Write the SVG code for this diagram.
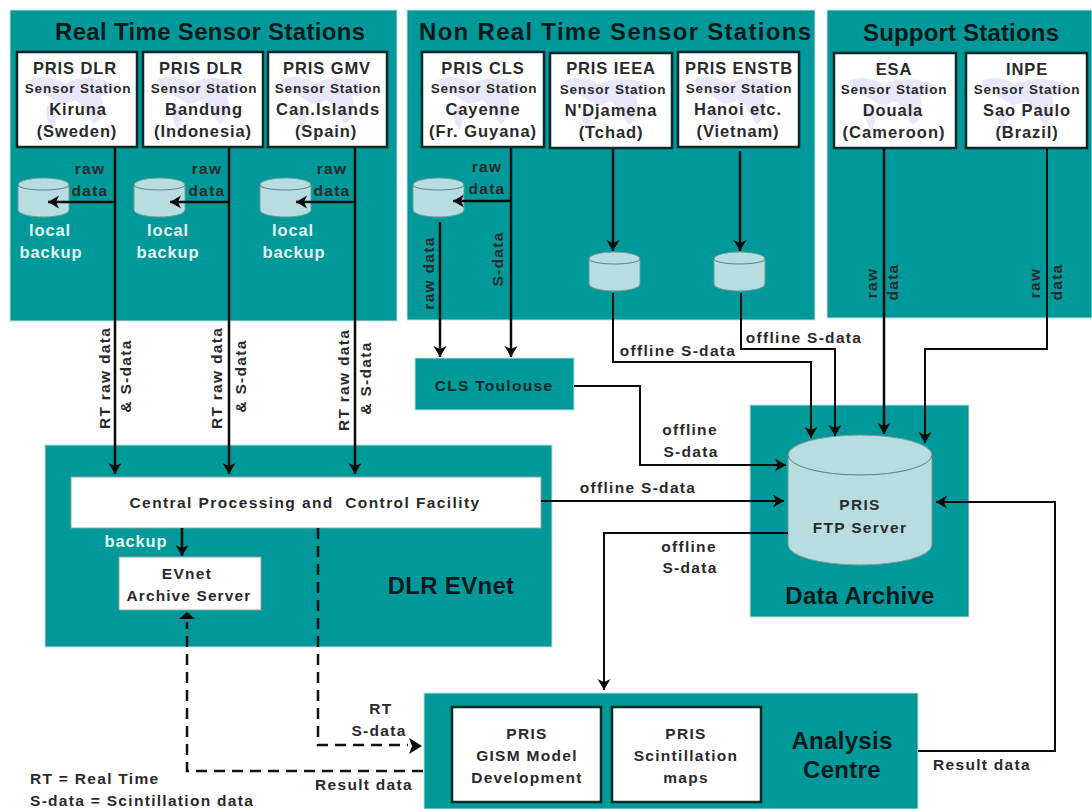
<svg xmlns="http://www.w3.org/2000/svg" xmlns:xlink="http://www.w3.org/1999/xlink" width="1092" height="809" viewBox="0 0 1092 809">
<style>
text{font-family:"Liberation Sans",Arial,sans-serif;font-weight:bold;fill:#2a2a2a;text-anchor:middle}
.panel{fill:#009999;stroke:#cfdcdc;stroke-width:1}
.box{fill:#fff;stroke:#102828;stroke-width:2.5}
.plain{fill:#fff;stroke:#8aa;stroke-width:1}
.title{font-size:24px;fill:#07191c}
.big{font-size:24px;letter-spacing:.3px;fill:#07191c}
.n{font-size:16.500px;letter-spacing:.9px}
.s{font-size:13.500px;letter-spacing:.8px}
.l{font-size:15.500px;letter-spacing:1.300px}
.w{font-size:16.500px;letter-spacing:.9px;fill:#e4f4f4}
.c{fill:#b8dde0;stroke:#6f9a9c;stroke-width:1}
.ct{fill:none;stroke:#5a7f80;stroke-width:1}
.line{fill:none;stroke:#0a0a0a;stroke-width:2.5}
.thin{fill:none;stroke:#0a0a0a;stroke-width:2}
.dash{fill:none;stroke:#111;stroke-width:2.5;stroke-dasharray:11 7}
</style>
<defs>
<marker id="arr" markerUnits="userSpaceOnUse" markerWidth="14" markerHeight="14" refX="12" refY="6.500" orient="auto"><path d="M1 0L12 6.500L1 13L4 6.500Z" fill="#0a0a0a"/></marker>
<path id="map" transform="translate(0,10)" d="M14 18C24 12 40 16 48 22C58 14 82 14 98 22C104 28 90 32 84 34C88 44 84 60 76 62C70 52 66 42 58 38C50 42 44 44 38 38C30 32 14 28 14 18ZM30 44C38 44 42 54 36 68C30 62 28 52 30 44Z" fill="#e8e8fa"/>
<g id="cyl"><path class="c" d="M0 8A25.500 7 0 0 1 51 8V33A25.500 7 0 0 1 0 33Z"/><path class="ct" d="M0 8A25.500 5 0 0 0 51 8"/></g>
</defs>

<g id="panel-rt"><rect class="panel" x="10" y="10" width="387" height="311"/><text class="title" x="210" y="40" textLength="310" lengthAdjust="spacing">Real Time Sensor Stations</text></g>
<g id="panel-nrt"><rect class="panel" x="407" y="10" width="408" height="310"/><text class="title" x="615" y="40" textLength="392" lengthAdjust="spacing">Non Real Time Sensor Stations</text></g>
<g id="panel-support"><rect class="panel" x="827" y="10" width="265" height="308"/><text class="title" x="961" y="41" textLength="196" lengthAdjust="spacing">Support Stations</text></g>
<g id="panel-dlr"><rect class="panel" x="45" y="445" width="507" height="202"/><text class="big" x="451" y="594">DLR EVnet</text></g>
<g id="panel-archive"><rect class="panel" x="750" y="405" width="219" height="212"/><text class="big" x="860" y="604">Data Archive</text></g>
<g id="panel-analysis"><rect class="panel" x="424" y="693" width="494" height="116"/><text class="big" x="842" y="749">Analysis</text><text class="big" x="842" y="778">Centre</text></g>

<g id="st-kiruna"><rect class="box" x="17" y="52" width="120" height="95"/><use xlink:href="#map" x="17" y="52"/><text class="n" x="75" y="74">PRIS DLR</text><text class="s" x="78" y="93">Sensor Station</text><text class="n" x="78" y="115">Kiruna</text><text class="n" x="77" y="137">(Sweden)</text></g>
<g id="st-bandung"><rect class="box" x="143" y="52" width="120" height="95"/><use xlink:href="#map" x="143" y="52"/><text class="n" x="201" y="74">PRIS DLR</text><text class="s" x="204" y="93">Sensor Station</text><text class="n" x="204" y="115">Bandung</text><text class="n" x="203" y="137">(Indonesia)</text></g>
<g id="st-canary"><rect class="box" x="268" y="52" width="119" height="95"/><use xlink:href="#map" x="268" y="52"/><text class="n" x="327" y="74">PRIS GMV</text><text class="s" x="328" y="93">Sensor Station</text><text class="n" x="328" y="115" textLength="104" lengthAdjust="spacing">Can.Islands</text><text class="n" x="326" y="137">(Spain)</text></g>
<g id="st-cayenne"><rect class="box" x="422" y="52" width="122" height="95"/><use xlink:href="#map" x="424" y="52"/><text class="n" x="483" y="74">PRIS CLS</text><text class="s" x="484" y="93">Sensor Station</text><text class="n" x="483" y="115">Cayenne</text><text class="n" x="483" y="137" textLength="108" lengthAdjust="spacing">(Fr. Guyana)</text></g>
<g id="st-ndjamena"><rect class="box" x="550" y="53" width="122" height="95"/><use xlink:href="#map" x="552" y="53"/><text class="n" x="611" y="74">PRIS IEEA</text><text class="s" x="613" y="94">Sensor Station</text><text class="n" x="611" y="116">N'Djamena</text><text class="n" x="611" y="138">(Tchad)</text></g>
<g id="st-hanoi"><rect class="box" x="678" y="52" width="121" height="95"/><use xlink:href="#map" x="680" y="52"/><text class="n" x="739" y="74" textLength="108" lengthAdjust="spacing">PRIS ENSTB</text><text class="s" x="739" y="93">Sensor Station</text><text class="n" x="738" y="115">Hanoi etc.</text><text class="n" x="738" y="137">(Vietnam)</text></g>
<g id="st-douala"><rect class="box" x="834" y="53" width="122" height="95"/><use xlink:href="#map" x="836" y="53"/><text class="n" x="894" y="75">ESA</text><text class="s" x="894" y="94">Sensor Station</text><text class="n" x="893" y="116">Douala</text><text class="n" x="894" y="138" textLength="103" lengthAdjust="spacing">(Cameroon)</text></g>
<g id="st-saopaulo"><rect class="box" x="966" y="53" width="121" height="95"/><use xlink:href="#map" x="968" y="53"/><text class="n" x="1027" y="75">INPE</text><text class="s" x="1027" y="94">Sensor Station</text><text class="n" x="1027" y="116">Sao Paulo</text><text class="n" x="1027" y="138">(Brazil)</text></g>

<g id="db-kiruna"><use xlink:href="#cyl" x="18" y="177"/></g>
<g id="db-bandung"><use xlink:href="#cyl" x="134" y="177"/></g>
<g id="db-canary"><use xlink:href="#cyl" x="260" y="177"/></g>
<g id="db-cayenne"><use xlink:href="#cyl" x="413" y="177"/></g>
<g id="db-ndjamena"><use xlink:href="#cyl" x="589" y="251"/></g>
<g id="db-hanoi"><use xlink:href="#cyl" x="714" y="251"/></g>

<g id="ftp"><path class="c" d="M788 455A72 20 0 0 1 932 455V545A72 20 0 0 1 788 545Z"/><path class="ct" d="M788 455A72 20 0 0 0 932 455" stroke-width="1.500"/><text class="l" x="860" y="510">PRIS</text><text class="l" x="860" y="533">FTP Server</text></g>

<g id="central"><rect class="plain" x="71" y="477" width="470" height="51"/><text class="l" x="305" y="508" xml:space="preserve" textLength="351" lengthAdjust="spacing">Central Processing and  Control Facility</text></g>
<g id="evnet-archive"><rect class="plain" x="119" y="557" width="142" height="53"/><text class="l" x="187" y="579">EVnet</text><text class="l" x="189" y="601" textLength="125" lengthAdjust="spacing">Archive Server</text></g>
<g id="cls"><rect class="panel" x="415" y="358" width="159" height="52" stroke="#bcc"/><text class="l" x="494" y="391" style="fill:#0e2a2a">CLS Toulouse</text></g>
<g id="gism"><rect class="box" x="452" y="707" width="149" height="95"/><text class="l" x="527" y="739">PRIS</text><text class="l" x="527" y="761">GISM Model</text><text class="l" x="527" y="783">Development</text></g>
<g id="maps"><rect class="box" x="612" y="707" width="149" height="95"/><text class="l" x="686" y="739">PRIS</text><text class="l" x="686" y="761">Scintillation</text><text class="l" x="686" y="783">maps</text></g>

<g id="connectors">
<path class="line" marker-end="url(#arr)" d="M115 148V474"/>
<path class="line" marker-end="url(#arr)" d="M229 148V474"/>
<path class="line" marker-end="url(#arr)" d="M355 148V474"/>
<path class="line" marker-end="url(#arr)" d="M115 202H48"/>
<path class="line" marker-end="url(#arr)" d="M229 202H170"/>
<path class="line" marker-end="url(#arr)" d="M355 202H296"/>
<path class="line" marker-end="url(#arr)" d="M511 148V357"/>
<path class="line" marker-end="url(#arr)" d="M511 201H453"/>
<path class="line" marker-end="url(#arr)" d="M440 222V357"/>
<path class="line" marker-end="url(#arr)" d="M613 149V251"/>
<path class="line" marker-end="url(#arr)" d="M740 151V251"/>
<path class="thin" marker-end="url(#arr)" d="M613 293V362H811V438"/>
<path class="thin" marker-end="url(#arr)" d="M741 293V349H835V436"/>
<path class="line" marker-end="url(#arr)" d="M884 148V434"/>
<path class="thin" marker-end="url(#arr)" d="M1047 148V349H925V443"/>
<path class="thin" marker-end="url(#arr)" d="M574 386H640V465H786"/>
<path class="thin" marker-end="url(#arr)" d="M541 501H784"/>
<path class="thin" marker-end="url(#arr)" d="M788 533H604V690"/>
<path class="thin" marker-end="url(#arr)" d="M918 751H1055V502H936"/>
<path class="line" marker-end="url(#arr)" d="M182 528V556"/>
<path class="dash" d="M318 528V745H408"/>
<path fill="#0a0a0a" d="M409 738L422 746L409 754L412 746Z"/>
<path class="dash" d="M423 771H187V622"/>
<path fill="#0a0a0a" d="M179 619L187 612L195 619Z"/>
</g>

<g id="labels">
<text class="l" x="90" y="174">raw</text><text class="l" x="90" y="196">data</text>
<text class="l" x="207" y="174">raw</text><text class="l" x="207" y="196">data</text>
<text class="l" x="332" y="174">raw</text><text class="l" x="332" y="196">data</text>
<text class="l" x="487" y="172">raw</text><text class="l" x="487" y="194">data</text>
<text class="w" x="50" y="236">local</text><text class="w" x="51" y="258">backup</text>
<text class="w" x="168" y="236">local</text><text class="w" x="168" y="258">backup</text>
<text class="w" x="293" y="236">local</text><text class="w" x="294" y="258">backup</text>
<text class="w" x="136" y="547">backup</text>
<text class="l" transform="translate(434,273) rotate(-90)">raw data</text>
<text class="l" transform="translate(503,259) rotate(-90)">S-data</text>
<text class="l" transform="translate(877,283) rotate(-90)">raw</text>
<text class="l" transform="translate(898,282) rotate(-90)">data</text>
<text class="l" transform="translate(1040,283) rotate(-90)">raw</text>
<text class="l" transform="translate(1062,282) rotate(-90)">data</text>
<text class="l" transform="translate(110,378) rotate(-90)">RT raw data</text>
<text class="l" transform="translate(131,376) rotate(-90)">&amp; S-data</text>
<text class="l" transform="translate(222,378) rotate(-90)">RT raw data</text>
<text class="l" transform="translate(246,376) rotate(-90)">&amp; S-data</text>
<text class="l" transform="translate(349,380) rotate(-90)">RT raw data</text>
<text class="l" transform="translate(371,378) rotate(-90)">&amp; S-data</text>
<text class="l" x="678" y="356">offline S-data</text>
<text class="l" x="804" y="343">offline S-data</text>
<text class="l" x="690" y="435">offline</text><text class="l" x="691" y="457">S-data</text>
<text class="l" x="638" y="493">offline S-data</text>
<text class="l" x="689" y="552">offline</text><text class="l" x="690" y="573">S-data</text>
<text class="l" x="381" y="714">RT</text><text class="l" x="379" y="736">S-data</text>
<text class="l" x="364" y="790">Result data</text>
<text class="l" x="982" y="770">Result data</text>
<text class="l" x="30" y="784" style="text-anchor:start">RT = Real Time</text>
<text class="l" x="30" y="806" style="text-anchor:start">S-data = Scintillation data</text>
</g>
</svg>
